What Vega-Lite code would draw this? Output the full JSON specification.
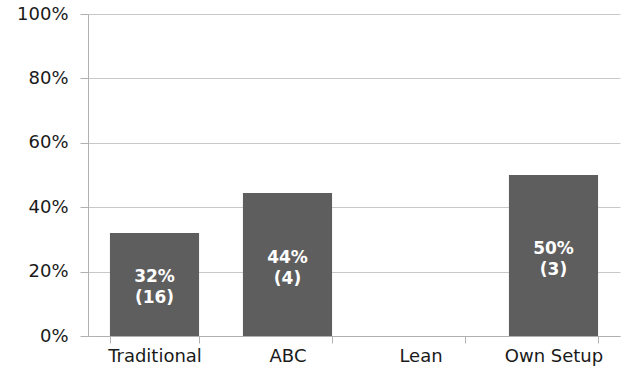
{
  "$schema": "https://vega.github.io/schema/vega-lite/v6.json",
  "width": 532,
  "height": 322,
  "autosize": "none",
  "padding": {"left": 88, "top": 14, "right": 1, "bottom": 37},
  "background": "white",
  "config": {"view": {"stroke": null}, "font": "DejaVu Sans"},
  "data": {"values": [
    {"method": "Traditional", "share": 0.32, "label": "32%\n(16)"},
    {"method": "ABC", "share": 0.444, "label": "44%\n(4)"},
    {"method": "Lean", "share": 0, "label": ""},
    {"method": "Own Setup", "share": 0.5, "label": "50%\n(3)"}
  ]},
  "encoding": {
    "x": {"field": "method", "type": "nominal", "sort": null,
      "scale": {"paddingInner": 0.33, "paddingOuter": 0.165},
      "axis": {"title": null, "labelAngle": 0, "grid": false, "tickBand": "extent",
        "domainColor": "#b0b0b0", "tickColor": "#b0b0b0", "tickSize": 7,
        "labelFont": "DejaVu Sans", "labelFontSize": 18, "labelColor": "#1a1a1a", "labelPadding": 4}}
  },
  "layer": [
    {"mark": {"type": "bar", "color": "#5e5e5e"},
     "encoding": {"y": {"field": "share", "type": "quantitative",
       "scale": {"domain": [0, 1]},
       "axis": {"title": null, "format": ".0%", "values": [0, 0.2, 0.4, 0.6, 0.8, 1],
         "gridColor": "#c8c8c8", "domainColor": "#b0b0b0", "tickColor": "#b0b0b0", "tickSize": 8,
         "labelFont": "DejaVu Sans", "labelFontSize": 18, "labelColor": "#1a1a1a", "labelPadding": 12}}}},
    {"transform": [{"calculate": "datum.share / 2", "as": "mid"}],
     "mark": {"type": "text", "color": "white", "fontWeight": "bold", "fontSize": 17, "lineBreak": "\n", "lineHeight": 21, "baseline": "middle", "dy": -7, "font": "DejaVu Sans"},
     "encoding": {"y": {"field": "mid", "type": "quantitative"}, "text": {"field": "label"}}}
  ]
}
